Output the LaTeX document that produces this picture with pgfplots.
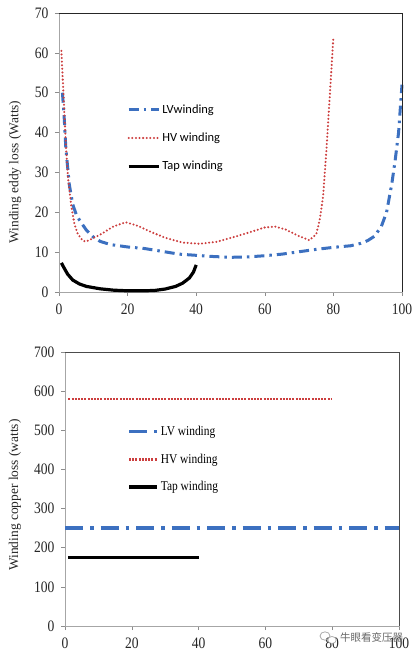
\documentclass[border=0pt]{standalone}
\usepackage{fontspec}
\setmainfont{Liberation Serif}
\newfontfamily\legsans{Carlito}
\newfontfamily\cjk{Noto Sans CJK SC}
\usepackage{graphicx}
\usepackage{pgfplots}
\pgfplotsset{compat=1.18}
\usepackage{pgfplotstable}
\definecolor{lvblue}{RGB}{60,112,192}
\definecolor{hvred}{RGB}{204,62,62}

\pgfplotstableread{
x y
1 50
1.5 44
2 36
3 27
4 22
5 19.5
6 18
8 15.5
10 13.8
12 12.7
15 11.9
20 11.3
25 10.9
30 10.2
35 9.5
40 9.2
45 8.9
50 8.7
55 8.8
60 9.1
65 9.5
70 10.1
75 10.7
80 11.2
85 11.6
88 12.2
90 12.9
92 14
94 16.5
95.5 20
97 27
98 33
99 40
100 52
}\lvtop

\pgfplotstableread{
x y
0.7 60.5
1 55
1.5 46
2 37
2.6 29
3.5 22
4.5 17
5.5 14.5
7 12.8
8 12.7
9 13.1
12 14.4
16 16.5
19.5 17.5
23 16.6
27 15
31 13.6
36 12.4
41 12.1
46 12.6
51 13.8
56 15.1
60 16.2
63 16.4
66 15.7
70 14
73 13
75 14.5
76 18
77 24
78 36
79 50
80 64
}\hvtop

\pgfplotstableread{
x y
0.7 7.3
1.5 6
2.5 4.5
4 3
6 2
8 1.4
12 0.8
16 0.45
20 0.3
25 0.3
28 0.4
31 0.75
34 1.4
36 2.2
38 3.5
39.2 5
40 6.8
}\taptop

\pgfplotstableread{
x y
1 580
80 580
}\hvbot
\pgfplotstableread{
x y
0 250
100 250
}\lvbot
\pgfplotstableread{
x y
1 175
40 175
}\tapbot

\newcommand{\cond}[1]{\scalebox{0.85}[1]{#1}}

\pgfplotsset{
  mystyle/.style={
    scale only axis,
    xmin=0, xmax=100,
    axis line style={black!35},
    tick style={black!45, line width=0.6bp},
    tick align=outside,
    major tick length=4bp,
    xtick pos=bottom, ytick pos=left,
    xticklabel={\cond{\pgfmathprintnumber[assume math mode=true]{\tick}}},
    yticklabel={\cond{\pgfmathprintnumber[assume math mode=true]{\tick}}},
    ticklabel style={font=\fontsize{16}{16}\selectfont, text=black!85},
    xticklabel style={yshift=-4bp},
    yticklabel style={xshift=-3bp},
    label style={font=\fontsize{13.5}{14}\selectfont, text=black!85},
    clip=false,
    legend cell align=left,
  },
  lvstyle/.style={lvblue, line width=3bp},
  hvstyle/.style={hvred, line width=2.3bp, line cap=round, dash pattern=on 0bp off 3.6bp},
  tapstyle/.style={black, line width=3.2bp},
}

\begin{document}
\begin{tikzpicture}
\path[use as bounding box] (0,0) rectangle (414bp,654bp);

\begin{axis}[mystyle,
  at={(59bp,362bp)}, anchor=south west,
  width=343bp, height=279bp,
  ymin=0, ymax=70,
  xtick={0,20,...,100}, ytick={0,10,...,70},
  ylabel={Winding eddy loss (Watts)},
  ylabel style={at={(axis description cs:-0.128,0.43)}, anchor=center},
  legend style={draw=none, fill=none, inner sep=0pt,
    at={(axis description cs:0.198,0.552)}, anchor=west,
    font=\legsans\fontsize{12.5}{13}\selectfont, row sep=14bp,
    nodes={inner sep=2bp}},
  legend image code/.code={\draw[#1] (0bp,0bp) -- (30bp,0bp);},
]
\addplot[lvstyle, dash pattern=on 10bp off 5bp on 2.5bp off 5bp] table[x=x,y=y] {\lvtop};
\addlegendentry{LVwinding}
\addplot[hvstyle] table[x=x,y=y] {\hvtop};
\addlegendentry{HV winding}
\addplot[tapstyle] table[x=x,y=y] {\taptop};
\addlegendentry{Tap winding}
\draw[black!85, line width=0.8bp] (rel axis cs:0,1) -- (rel axis cs:1,1) -- (rel axis cs:1,0);
\end{axis}

\begin{axis}[mystyle,
  at={(65bp,28bp)}, anchor=south west,
  width=334bp, height=274bp,
  ymin=0, ymax=700,
  xtick={0,20,...,100}, ytick={0,100,...,700},
  ylabel={Winding copper loss (watts)},
  ylabel style={at={(axis description cs:-0.15,0.478)}, anchor=center},
  legend style={draw=none, fill=none, inner sep=0pt,
    at={(axis description cs:0.186,0.609)}, anchor=west,
    font=\fontsize{13.5}{14}\selectfont, row sep=13bp,
    nodes={inner sep=2bp}},
  legend image code/.code={\draw[#1] (0bp,0bp) -- (28bp,0bp);},
]
\addplot[lvstyle, line width=3.3bp, dash pattern=on 18bp off 7bp on 3.5bp off 7bp] table[x=x,y=y] {\lvbot};
\addlegendentry{\cond{LV winding}}
\addplot[hvred, line width=2.8bp, dash pattern=on 2bp off 1.2bp] table[x=x,y=y] {\hvbot};
\addlegendentry{\cond{HV winding}}
\addplot[tapstyle, line width=3.5bp] table[x=x,y=y] {\tapbot};
\addlegendentry{\cond{Tap winding}}
\draw[black!70, line width=0.8bp] (rel axis cs:0,1) -- (rel axis cs:1,1) -- (rel axis cs:1,0);
\end{axis}

% watermark
\draw[black!35, line width=0.7bp] (325bp,18bp) ellipse (5bp and 4.2bp);
\draw[black!35, line width=0.7bp, fill=white] (332bp,14bp) ellipse (4.2bp and 3.5bp);
\node[anchor=west, inner sep=0pt, text=black!60, font=\cjk\fontsize{10.5}{11}\selectfont] at (340bp,17bp) {牛眼看变压器};
\end{tikzpicture}
\end{document}
